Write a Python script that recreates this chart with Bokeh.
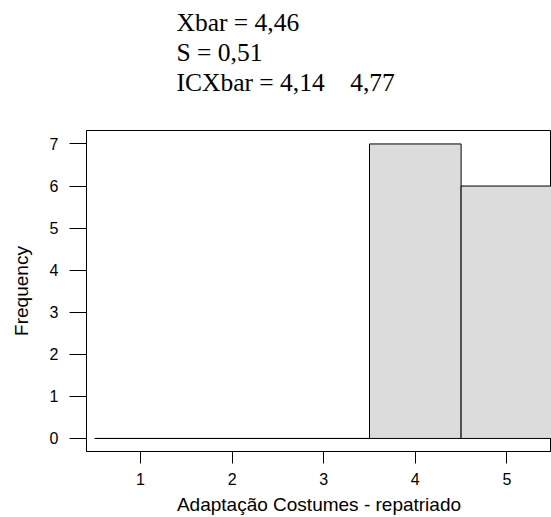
from bokeh.plotting import figure
from bokeh.models import Range1d, FixedTicker, Title
from bokeh.embed import file_html
from bokeh.resources import INLINE

# ---- data ----
bin_edges = [0.5, 1.5, 2.5, 3.5, 4.5, 5.5]
counts = [0, 0, 0, 7, 6]
x_ticks = [1, 2, 3, 4, 5]
y_ticks = [0, 1, 2, 3, 4, 5, 6, 7]
stat_lines = ["Xbar = 4,46", "S = 0,51", "ICXbar = 4,14\u00a0\u00a0\u00a0\u00a04,77"]
x_label = "Adaptação Costumes - repatriado"
y_label = "Frequency"

# ---- layout ----
W, H = 551, 517
BL, BT, BB, BR = 86, 130, 64, 0
x0, x1 = 0.41, 5.487
y0, y1 = -0.31, 7.32

p = figure(width=W, height=H, output_backend="svg", toolbar_location=None,
           x_range=Range1d(x0, x1), y_range=Range1d(y0, y1),
           min_border_left=BL, min_border_right=BR,
           min_border_top=BT, min_border_bottom=BB)
p.title.visible = False
p.background_fill_color = "white"
p.border_fill_color = "white"
p.outline_line_color = "black"
p.outline_line_width = 1
p.xgrid.visible = False
p.ygrid.visible = False

p.quad(left=bin_edges[:-1], right=bin_edges[1:], top=counts, bottom=[0] * len(counts),
       fill_color="#DCDCDC", line_color="black", line_width=1)

for ax, ticks, tick_out, standoff in ((p.xaxis[0], x_ticks, 12, 9), (p.yaxis[0], y_ticks, 17, 11)):
    ax.ticker = FixedTicker(ticks=ticks)
    ax.minor_tick_line_color = None
    ax.major_tick_in = 0
    ax.major_tick_out = tick_out
    ax.major_tick_line_color = "black"
    ax.axis_line_color = "black"
    ax.major_label_text_font = "Liberation Sans"
    ax.major_label_text_font_size = "16px"
    ax.major_label_text_color = "black"
    ax.major_label_standoff = standoff
    ax.axis_label_text_font = "Liberation Sans"
    ax.axis_label_text_font_size = "19px"
    ax.axis_label_text_font_style = "normal"
    ax.axis_label_text_color = "black"

p.xaxis[0].axis_label = x_label
p.xaxis[0].axis_label_standoff = 6
p.yaxis[0].axis_label = y_label
p.yaxis[0].axis_label_standoff = 15
p.yaxis[0].major_label_orientation = "horizontal"

# trailing newline leaves an empty line as the gap between the text block and the box
p.add_layout(Title(text="\n".join(stat_lines) + "\n", align="left", offset=90, standoff=8,
                   text_font="Liberation Serif", text_font_size="25.5px",
                   text_line_height=1.03,
                   text_font_style="normal", text_color="black"), "above")

open("out.html", "w").write(file_html(p, INLINE))
